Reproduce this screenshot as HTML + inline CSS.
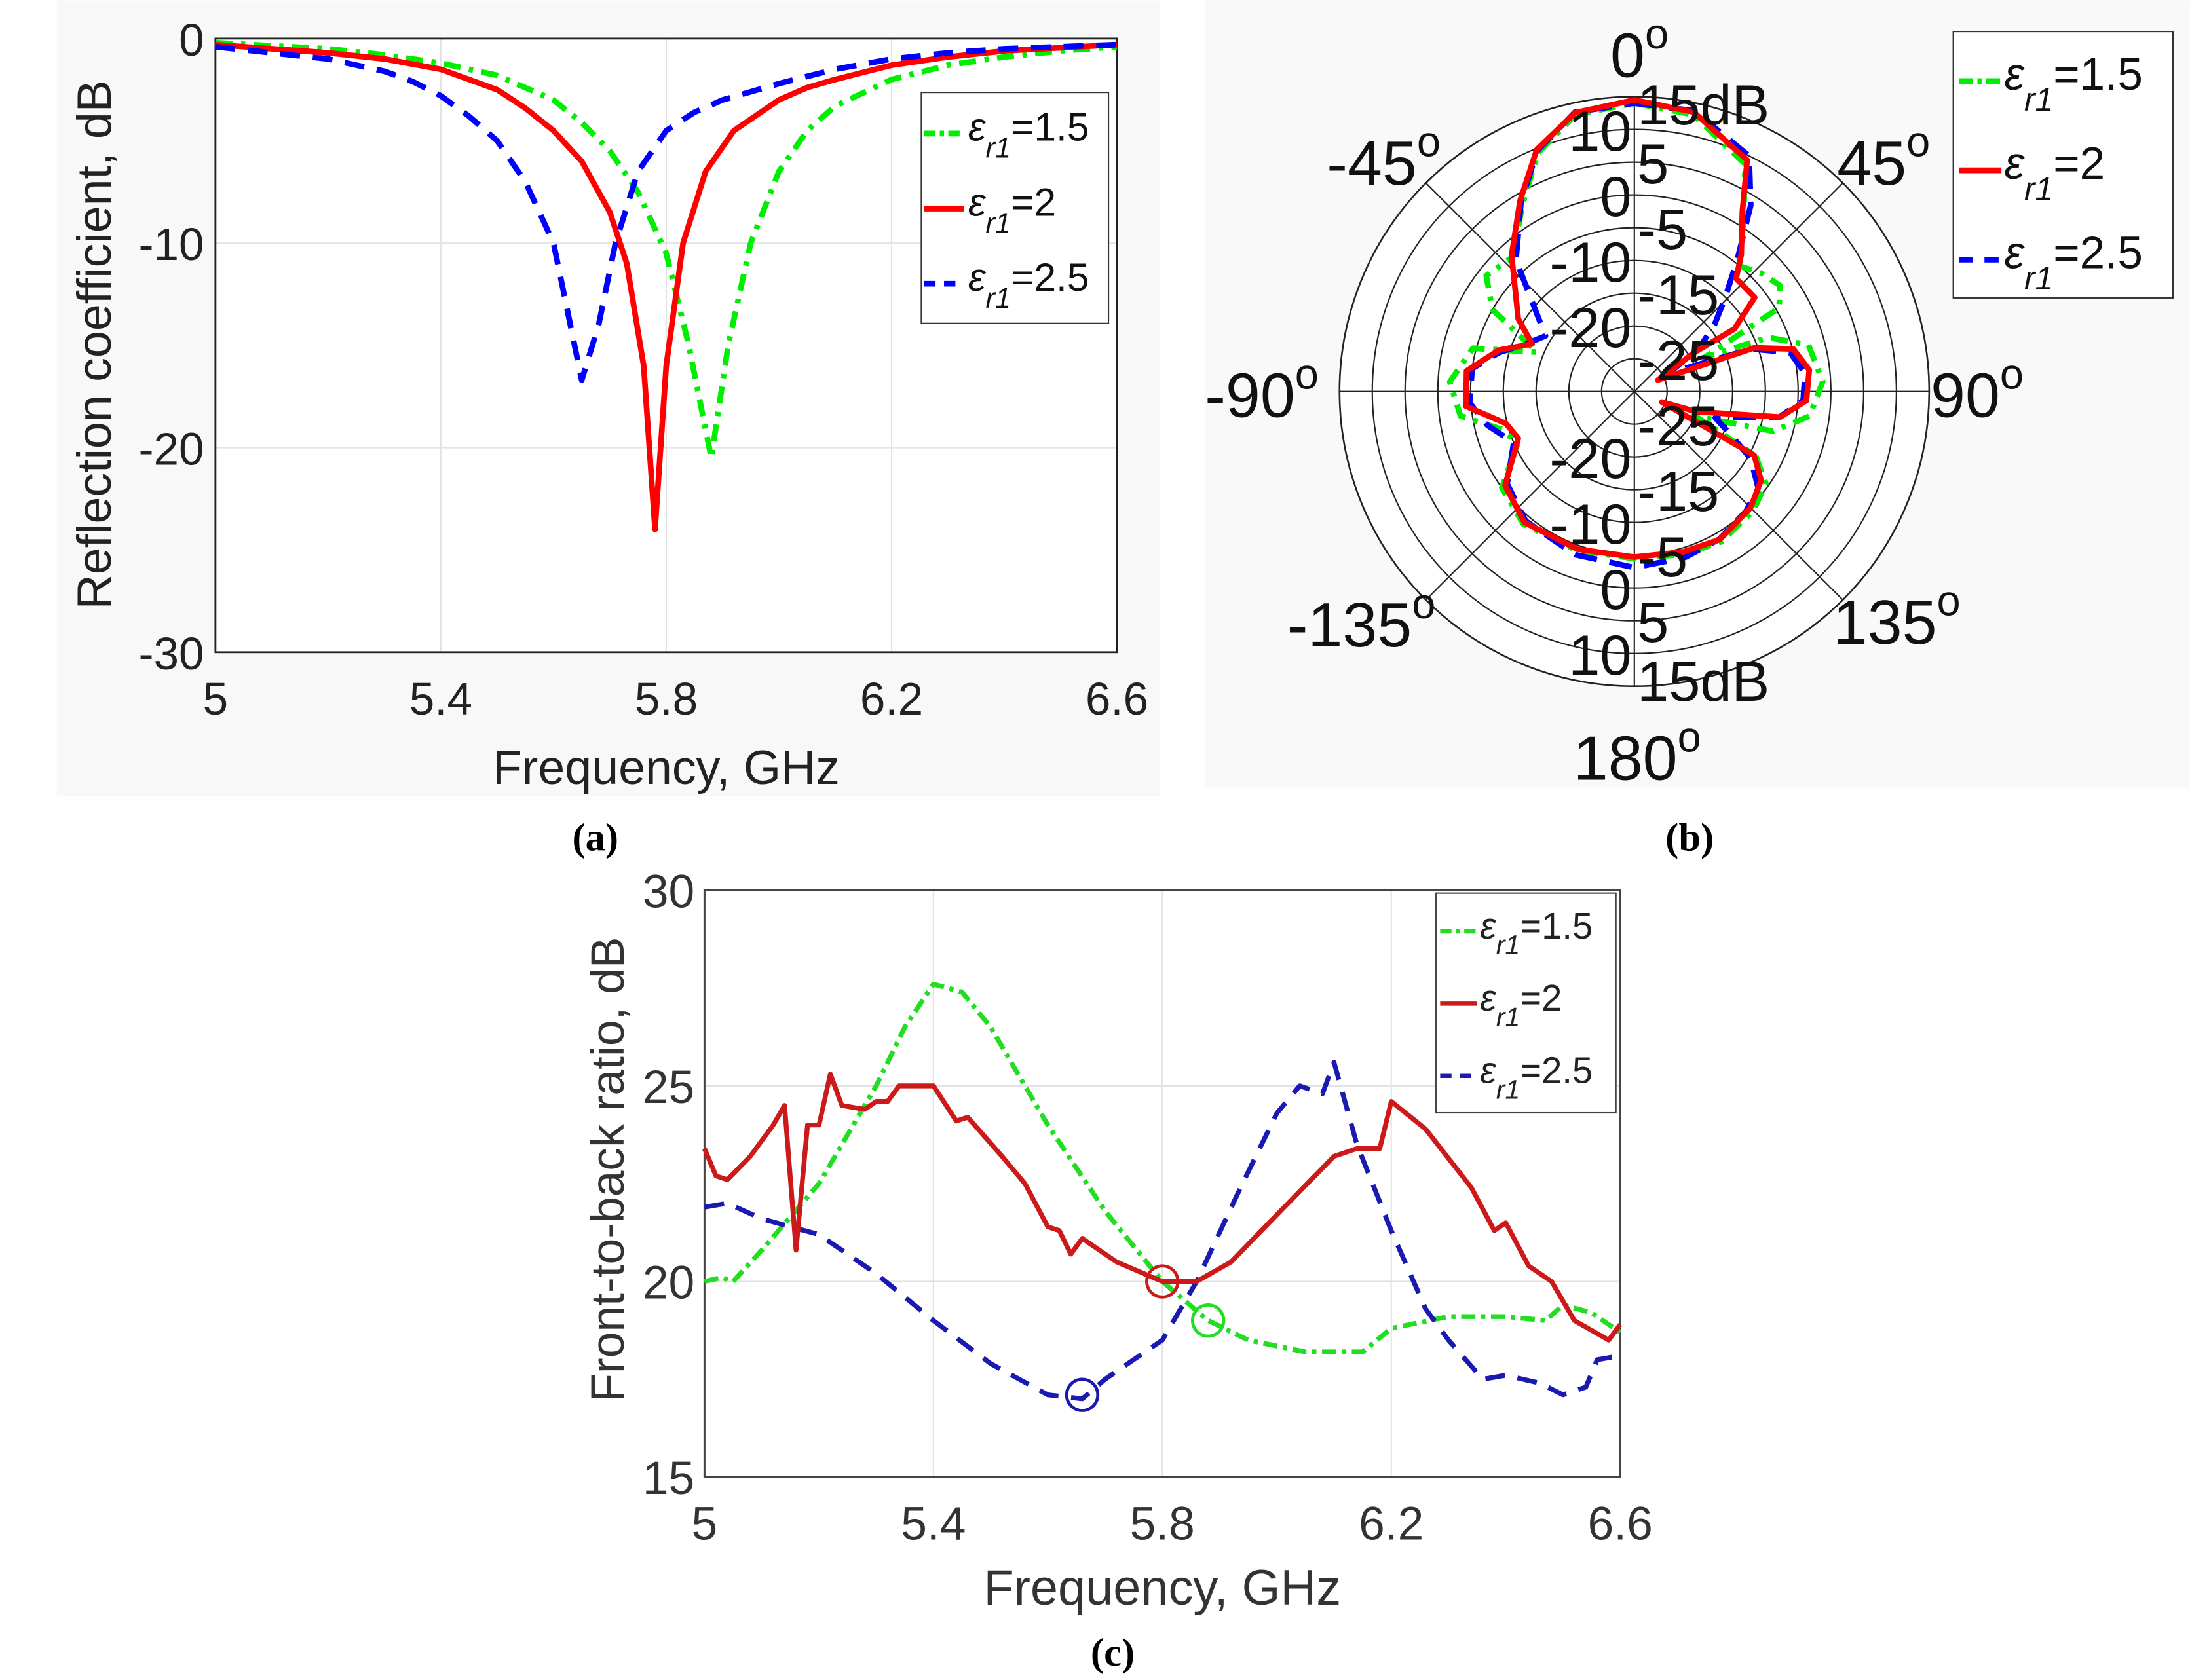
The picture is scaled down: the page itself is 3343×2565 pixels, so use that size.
<!DOCTYPE html>
<html><head><meta charset="utf-8">
<style>
html,body{margin:0;padding:0;background:#fff;}
svg{display:block;}
text{font-family:"Liberation Sans",sans-serif;}
.cap{font-family:"Liberation Serif",serif;font-weight:bold;}
</style></head>
<body>
<svg id="fig" width="3343" height="2565" viewBox="0 0 1545 1185" xmlns="http://www.w3.org/2000/svg">
  <rect x="40" y="0" width="778" height="562" fill="#f8f8f8"/>
  <rect x="850" y="0" width="695" height="556" fill="#f9f9f9"/>
  <g id="pa"></g>
  <g id="pb"></g>
  <g id="pc"></g>
  <text class="cap" x="420" y="600" font-size="28" text-anchor="middle">(a)</text>
  <text class="cap" x="1192" y="600" font-size="28" text-anchor="middle">(b)</text>
  <text class="cap" x="785" y="1175" font-size="28" text-anchor="middle">(c)</text>
</svg>
<script>
const NS="http://www.w3.org/2000/svg";
// ---------- Panel (a) data ----------
const aXTicks=[5,5.4,5.8,6.2,6.6];
const aYTicks=[0,-10,-20,-30];
const aGreenF=[5.0,5.2,5.3,5.4,5.5,5.6,5.65,5.7,5.75,5.8,5.84,5.88,5.91,5.95,6.0,6.05,6.1,6.2,6.3,6.4,6.5,6.6];
const aGreenV=[-0.2,-0.5,-0.8,-1.2,-1.8,-3.0,-4.1,-5.5,-7.5,-10.5,-15,-20.5,-15,-10,-6.5,-4.5,-3.3,-2.0,-1.3,-0.9,-0.6,-0.4];
const aRedF=[5.0,5.2,5.3,5.4,5.45,5.5,5.55,5.6,5.65,5.7,5.73,5.76,5.78,5.8,5.83,5.87,5.92,6.0,6.05,6.1,6.2,6.3,6.4,6.6];
const aRedV=[-0.3,-0.7,-1.0,-1.5,-2.0,-2.5,-3.4,-4.5,-6,-8.5,-11,-16,-24,-16,-10,-6.5,-4.5,-3,-2.4,-2,-1.3,-0.9,-0.6,-0.3];
const aBlueF=[5.0,5.2,5.3,5.35,5.4,5.45,5.5,5.55,5.6,5.63,5.65,5.68,5.71,5.75,5.8,5.85,5.9,6.0,6.1,6.2,6.3,6.4,6.6];
const aBlueV=[-0.4,-1.0,-1.6,-2.1,-2.8,-3.8,-5,-7,-10,-14,-16.7,-14,-10,-6.5,-4.5,-3.6,-3,-2.2,-1.5,-1.0,-0.7,-0.5,-0.3];
// ---------- Panel (b) data (angle deg clockwise from 0°, gain dB) ----------
const bRings=[-25,-20,-15,-10,-5,0,5,10,15];
const bRedA=[0,12,26,31,38,42,52,58,57,64,70,75,83,93,100,108,111,118,125,135,150,163,180,200,220,234,248,256,265,277,287,295,302,318,329,338,348,360];
const bRedV=[14.5,13.6,9.3,2,-3.5,-6.8,-6.7,-12,-19,-26,-10.5,-4.9,-3.1,-3.7,-7.4,-20,-25.5,-9.3,-6.4,-4.9,-3.9,-4.4,-4.7,-4.4,-3.9,-5.6,-10.9,-9.8,-4.2,-4.2,-8.4,-12.8,-9.1,-2,3.9,9.8,13.5,14.5];
const bGreenA=[0,12,26,32,40,47,54,60,64,68,75,87,98,106,112,118,125,135,150,163,180,200,220,234,246,254,262,273,285,292,300,308,318,329,338,348,360];
const bGreenV=[14.0,13.2,8.6,1.5,-5,-3.5,-2.5,-4.5,-18,-8,-2.5,-1.2,-3,-8,-20,-9,-5.5,-4.3,-3.5,-4,-4.5,-4.2,-3.6,-5,-10.5,-9,-3.2,-1.8,-4.5,-14,-5,-1.3,-2.3,3.2,9.3,13.2,14.0];
const bBlueA=[0,12,26,32,38,44,50,56,62,70,76,84,93,100,108,114,120,128,137,150,163,180,200,220,234,247,257,266,278,286,294,302,318,329,338,348,360];
const bBlueV=[14.0,13.8,10.0,3.5,-4.5,-10,-14,-18,-24,-11,-5.5,-3.8,-4.2,-7.5,-17,-14,-9.5,-6,-5,-4,-3.5,-3.1,-3.5,-4.2,-6,-10,-7,-4.8,-5,-8.5,-12,-14,-3,3.6,9.6,13.6,14.0];
// ---------- Panel (c) data ----------
const cXTicks=[5,5.4,5.8,6.2,6.6];
const cYTicks=[15,20,25,30];
const cGreenF=[5.0,5.03,5.05,5.1,5.2,5.3,5.35,5.4,5.45,5.5,5.6,5.7,5.8,5.88,5.95,6.05,6.15,6.2,6.3,6.4,6.47,6.5,6.55,6.6];
const cGreenV=[20,20.1,20,20.8,22.5,25,26.5,27.6,27.4,26.5,24,21.8,20,19,18.5,18.2,18.2,18.8,19.1,19.1,19,19.4,19.2,18.7];
const cRedF=[5.0,5.02,5.04,5.08,5.12,5.14,5.16,5.18,5.2,5.22,5.24,5.28,5.3,5.32,5.34,5.4,5.44,5.46,5.52,5.56,5.6,5.62,5.64,5.66,5.72,5.8,5.86,5.92,5.96,6.04,6.1,6.14,6.18,6.2,6.26,6.34,6.38,6.4,6.44,6.48,6.52,6.58,6.6];
const cRedV=[23.4,22.7,22.6,23.2,24,24.5,20.8,24,24,25.3,24.5,24.4,24.6,24.6,25,25,24.1,24.2,23.2,22.5,21.4,21.3,20.7,21.1,20.5,20,20,20.5,21.1,22.3,23.2,23.4,23.4,24.6,23.9,22.4,21.3,21.5,20.4,20,19,18.5,18.9];
const cBlueF=[5.0,5.04,5.1,5.2,5.3,5.4,5.5,5.6,5.66,5.7,5.8,5.86,5.94,6.0,6.04,6.08,6.1,6.14,6.2,6.26,6.3,6.36,6.4,6.46,6.5,6.54,6.56,6.6];
const cBlueV=[21.9,22,21.6,21.2,20.2,19,17.9,17.1,17,17.5,18.5,20,22.5,24.3,25,24.8,25.6,23.5,21.3,19.3,18.5,17.5,17.6,17.4,17.1,17.3,18,18.1];
const cMarkF=[5.8,5.88,5.66];
const cMarkV=[20,19,17.1];

function el(tag,attrs,parent,txt){const e=document.createElementNS(NS,tag);for(const k in attrs)e.setAttribute(k,attrs[k]);if(txt!==undefined)e.textContent=txt;parent.appendChild(e);return e;}

// ---------- Panel (a) ----------
(function(){
  const g=document.getElementById('pa');
  const X0=152,X1=788,Y0=27,Y1=460;
  const xs=f=>X0+(f-5)/(1.6)*(X1-X0);
  const ys=v=>Y0+(0-v)/30*(Y1-Y0);
  const bg=el('rect',{x:X0,y:Y0,width:X1-X0,height:Y1-Y0,fill:'#fff',stroke:'none'},g);
  
  aXTicks.forEach(t=>{const l=el('line',{x1:xs(t),x2:xs(t),y1:Y0,y2:Y1,stroke:'#e4e4e4','stroke-width':1},g);
    
    const tx=el('text',{x:xs(t),y:Y1+44,'font-size':32,'text-anchor':'middle',fill:'#222'},g,String(t));
    });
  aYTicks.forEach(t=>{const l=el('line',{x1:X0,x2:X1,y1:ys(t),y2:ys(t),stroke:'#e4e4e4','stroke-width':1},g);
    
    const tx=el('text',{x:X0-8,y:ys(t)+12,'font-size':32,'text-anchor':'end',fill:'#222'},g,String(t));
    });
  const fr=el('rect',{x:X0,y:Y0,width:X1-X0,height:Y1-Y0,fill:'none',stroke:'#222','stroke-width':1.3},g);
  
  const series=[[aGreenF,aGreenV,'#00ee00','12 6 3 6','series-er-1-5'],[aRedF,aRedV,'#ff0000','none','series-er-2'],[aBlueF,aBlueV,'#0000ff','14 9','series-er-2-5']];
  series.forEach(s=>{const d=s[0].map((f,i)=>(i?'L':'M')+xs(f).toFixed(1)+' '+ys(s[1][i]).toFixed(1)).join(' ');
    const p=el('path',{d:d,fill:'none',stroke:s[2],'stroke-width':4,'stroke-dasharray':s[3],'stroke-linejoin':'round'},g);
    });
  const xt=el('text',{x:470,y:553,'font-size':34,'text-anchor':'middle',fill:'#222'},g,'Frequency, GHz');
  
  const yt=el('text',{x:0,y:0,'font-size':34,'text-anchor':'middle',fill:'#222',transform:'translate(78,243) rotate(-90)'},g,'Reflection coefficient, dB');
  
  const lg=el('g',{},g);
  el('rect',{x:650,y:65,width:132,height:163,fill:'#fff',stroke:'#333','stroke-width':1},lg);
  const labs=['1.5','2','2.5'];
  series.forEach((s,i)=>{const y=94+i*53;
    const ln=el('line',{x1:652,x2:680,y1:y,y2:y,stroke:s[2],'stroke-width':4,'stroke-dasharray':i==0?'8 3 3 3':(i==2?'8 6':'none')},lg);
    
    const t=el('text',{x:683,y:y+5,'font-size':28,fill:'#111'},lg);
    
    el('tspan',{'font-style':'italic'},t,'ε');
    el('tspan',{'font-style':'italic','font-size':20,dy:12},t,'r1');
    el('tspan',{dy:-12},t,'='+labs[i]);});
})();

// ---------- Panel (b) ----------
(function(){
  const g=document.getElementById('pb');
  const CX=1153,CY=276,R=208;
  const rs=v=>Math.max(0,(v+30)/45*R);
  const pt=(a,v)=>{const r=rs(v),t=a*Math.PI/180;return [CX+r*Math.sin(t),CY-r*Math.cos(t)];};
  const bgc=el('circle',{cx:CX,cy:CY,r:R,fill:'#fff',stroke:'#222','stroke-width':1.2},g);
  
  bRings.forEach(v=>{const c=el('circle',{cx:CX,cy:CY,r:rs(v),fill:'none',stroke:'#222','stroke-width':1},g);
    });
  [0,45,90,135].forEach(a=>{const p1=pt(a,15),p2=pt(a+180,15);
    const l=el('line',{x1:p1[0],y1:p1[1],x2:p2[0],y2:p2[1],stroke:'#222','stroke-width':1},g);
    });
  const series=[[bGreenA,bGreenV,'#00ee00','12 6 3 6','polar-series-er-1-5'],[bBlueA,bBlueV,'#0000ff','16 9','polar-series-er-2-5'],[bRedA,bRedV,'#ff0000','none','polar-series-er-2']];
  series.forEach(s=>{const d=s[0].map((a,i)=>{const p=pt(a,s[1][i]);return (i?'L':'M')+p[0].toFixed(1)+' '+p[1].toFixed(1);}).join(' ')+' Z';
    const p=el('path',{d:d,fill:'none',stroke:s[2],'stroke-width':4,'stroke-dasharray':s[3],'stroke-linejoin':'round'},g);
    });
  const rl=[['15dB',1,14,'start'],['10',-1,10,'end'],['5',1,5,'start'],['0',-1,0,'end'],['-5',1,-5,'start'],['-10',-1,-10,'end'],['-15',1,-15,'start'],['-20',-1,-20,'end'],['-25',1,-25,'start']];
  rl.forEach(r=>{const dy=rs(r[2]);
    [-1,1].forEach(sg=>{const y=CY-sg*dy+15;
      const t=el('text',{x:CX+r[1]*2,y:y,'font-size':40,'text-anchor':r[3],fill:'#111'},g,r[0]);
      });});
  const al=[['0',1136,54],['-45',936,130],['45',1296,130],['-90',850,294],['90',1362,294],['-135',908,456],['135',1293,454],['180',1110,550]];
  al.forEach(a=>{const t=el('text',{x:a[1],y:a[2],'font-size':44,fill:'#111'},g);
    
    el('tspan',{},t,a[0]);el('tspan',{'font-size':30,dy:-20},t,'o');});
  const lg=el('g',{},g);
  el('rect',{x:1378,y:22,width:155,height:188,fill:'#fff',stroke:'#333','stroke-width':1},lg);
  const labs=['1.5','2','2.5'];const cols=['#00ee00','#ff0000','#0000ff'];
  labs.forEach((l,i)=>{const y=57+i*63;
    const ln=el('line',{x1:1382,x2:1412,y1:y,y2:y,stroke:cols[i],'stroke-width':4,'stroke-dasharray':i==0?'10 3 3 3':(i==2?'10 8':'none')},lg);
    
    const t=el('text',{x:1414,y:y+6,'font-size':32,fill:'#111'},lg);
    
    el('tspan',{'font-style':'italic'},t,'ε');
    el('tspan',{'font-style':'italic','font-size':23,dy:15},t,'r1');
    el('tspan',{dy:-15},t,'='+l);});
})();

// ---------- Panel (c) ----------
(function(){
  const g=document.getElementById('pc');
  const X0=497,X1=1143,Y0=628,Y1=1042;
  const xs=f=>X0+(f-5)/1.6*(X1-X0);
  const ys=v=>Y1-(v-15)/15*(Y1-Y0);
  cXTicks.forEach(t=>{const l=el('line',{x1:xs(t),x2:xs(t),y1:Y0,y2:Y1,stroke:'#e2e2e2','stroke-width':1},g);
    
    const tx=el('text',{x:xs(t),y:Y1+44,'font-size':33,'text-anchor':'middle',fill:'#333'},g,String(t));
    });
  cYTicks.forEach(t=>{const l=el('line',{x1:X0,x2:X1,y1:ys(t),y2:ys(t),stroke:'#e2e2e2','stroke-width':1},g);
    
    const tx=el('text',{x:X0-7,y:ys(t)+12,'font-size':33,'text-anchor':'end',fill:'#333'},g,String(t));
    });
  const fr=el('rect',{x:X0,y:Y0,width:X1-X0,height:Y1-Y0,fill:'none',stroke:'#444','stroke-width':1.4},g);
  
  const series=[[cGreenF,cGreenV,'#22dd22','10 4 3 4','series-er-1-5'],[cBlueF,cBlueV,'#1a1ab0','14 9','series-er-2-5'],[cRedF,cRedV,'#cc1a1a','none','series-er-2']];
  series.forEach(s=>{const d=s[0].map((f,i)=>(i?'L':'M')+xs(f).toFixed(1)+' '+ys(s[1][i]).toFixed(1)).join(' ');
    const p=el('path',{d:d,fill:'none',stroke:s[2],'stroke-width':3.4,'stroke-dasharray':s[3],'stroke-linejoin':'round'},g);
    });
  const mc=['#cc1a1a','#22dd22','#1a1ab0'];
  cMarkF.forEach((f,i)=>{const c=el('circle',{cx:xs(f),cy:ys(cMarkV[i]),r:11,fill:'none',stroke:mc[i],'stroke-width':2.2},g);
    });
  const xt=el('text',{x:820,y:1132,'font-size':35,'text-anchor':'middle',fill:'#333'},g,'Frequency, GHz');
  
  const yt=el('text',{x:0,y:0,'font-size':33,'text-anchor':'middle',fill:'#333',transform:'translate(440,825) rotate(-90)'},g,'Front-to-back ratio, dB');
  
  const lg=el('g',{},g);
  el('rect',{x:1013,y:630,width:127,height:155,fill:'#fff',stroke:'#444','stroke-width':1},lg);
  const labs=['1.5','2','2.5'];const cols=['#22dd22','#cc1a1a','#1a1ab0'];
  labs.forEach((l,i)=>{const y=657+i*51;
    const ln=el('line',{x1:1016,x2:1042,y1:y,y2:y,stroke:cols[i],'stroke-width':3,'stroke-dasharray':i==0?'8 3 3 3':(i==2?'8 6':'none')},lg);
    
    const t=el('text',{x:1044,y:y+5,'font-size':26,fill:'#222'},lg);
    
    el('tspan',{'font-style':'italic'},t,'ε');
    el('tspan',{'font-style':'italic','font-size':19,dy:11},t,'r1');
    el('tspan',{dy:-11},t,'='+l);});
})();
</script>
</body></html>
